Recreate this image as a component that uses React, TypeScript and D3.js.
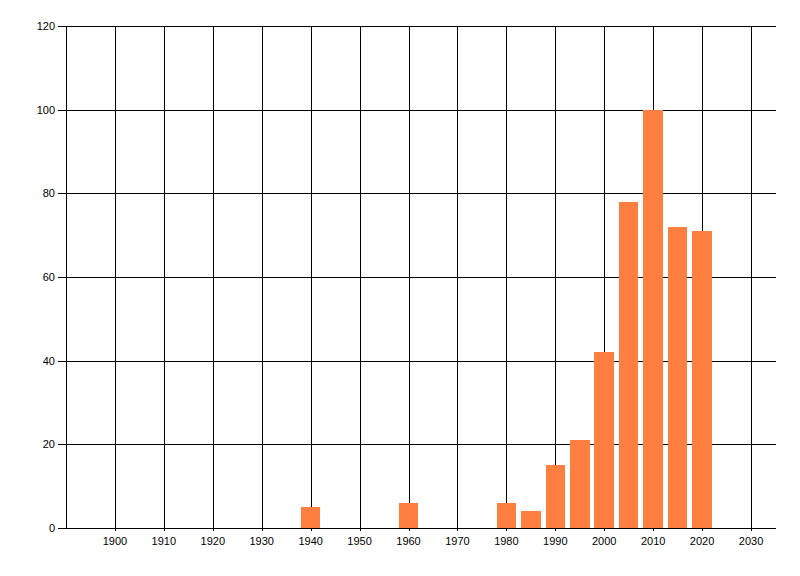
import React from "react";
import * as d3 from "d3";

const years = [1940, 1960, 1980, 1985, 1990, 1995, 2000, 2005, 2010, 2015, 2020];
const counts = [5, 6, 6, 4, 15, 21, 42, 78, 100, 72, 71];
const xTicks = [1900, 1910, 1920, 1930, 1940, 1950, 1960, 1970, 1980, 1990, 2000, 2010, 2020, 2030];
const yTicks = [0, 20, 40, 60, 80, 100, 120];
const xDomain = [1890, 2035];
const yDomain = [0, 120];
const barWidthYears = 4;

const W = 800;
const H = 576;
const left = 66;
const right = 775.5;
const top = 26;
const bottom = 528;

export default function App() {
  const x = d3.scaleLinear().domain(xDomain).range([left, right]);
  const y = d3.scaleLinear().domain(yDomain).range([bottom, top]);
  const font = "'Liberation Sans', Arial, sans-serif";
  const px = (v: number) => Math.round(v) + 0.5;

  return (
    <>
      <style>{`body{margin:0}`}</style>
      <svg width={W} height={H} style={{ display: "block", background: "#fff" }}>
        <rect x={0} y={0} width={W} height={H} fill="#fff" />
        {/* vertical gridlines */}
        {xTicks.map((t) => (
          <line
            key={"vx" + t}
            x1={px(x(t))}
            x2={px(x(t))}
            y1={top}
            y2={bottom + 3}
            stroke="#000"
            strokeWidth={1}
            shapeRendering="crispEdges"
          />
        ))}
        {/* horizontal gridlines */}
        {yTicks.map((t) => (
          <line
            key={"hy" + t}
            x1={left - 8}
            x2={Math.round(right)}
            y1={px(y(t))}
            y2={px(y(t))}
            stroke="#000"
            strokeWidth={1}
            shapeRendering="crispEdges"
          />
        ))}
        {/* y axis line */}
        <line
          x1={px(left)}
          x2={px(left)}
          y1={top}
          y2={bottom + 1}
          stroke="#000"
          strokeWidth={1}
          shapeRendering="crispEdges"
        />
        {/* bars */}
        {years.map((yr, i) => {
          const x0 = Math.round(x(yr - barWidthYears / 2));
          const x1 = Math.round(x(yr + barWidthYears / 2));
          const y0 = Math.round(y(counts[i]));
          return (
            <rect
              key={"b" + yr}
              x={x0}
              y={y0}
              width={x1 - x0}
              height={Math.round(bottom) - y0}
              fill="#ff7f40"
              shapeRendering="crispEdges"
            />
          );
        })}
        {/* x axis line on top */}
        <line
          x1={left - 8}
          x2={Math.round(right)}
          y1={px(bottom)}
          y2={px(bottom)}
          stroke="#000"
          strokeWidth={1}
          shapeRendering="crispEdges"
        />
        {/* y tick labels */}
        {yTicks.map((t) => (
          <text
            key={"yl" + t}
            x={55}
            y={y(t)}
            dy="0.36em"
            textAnchor="end"
            fontFamily={font}
            fontSize={11}
            fill="#000"
          >
            {t}
          </text>
        ))}
        {/* x tick labels */}
        {xTicks.map((t) => (
          <text
            key={"xl" + t}
            x={x(t)}
            y={545}
            textAnchor="middle"
            fontFamily={font}
            fontSize={11}
            fill="#000"
          >
            {t}
          </text>
        ))}
      </svg>
    </>
  );
}
